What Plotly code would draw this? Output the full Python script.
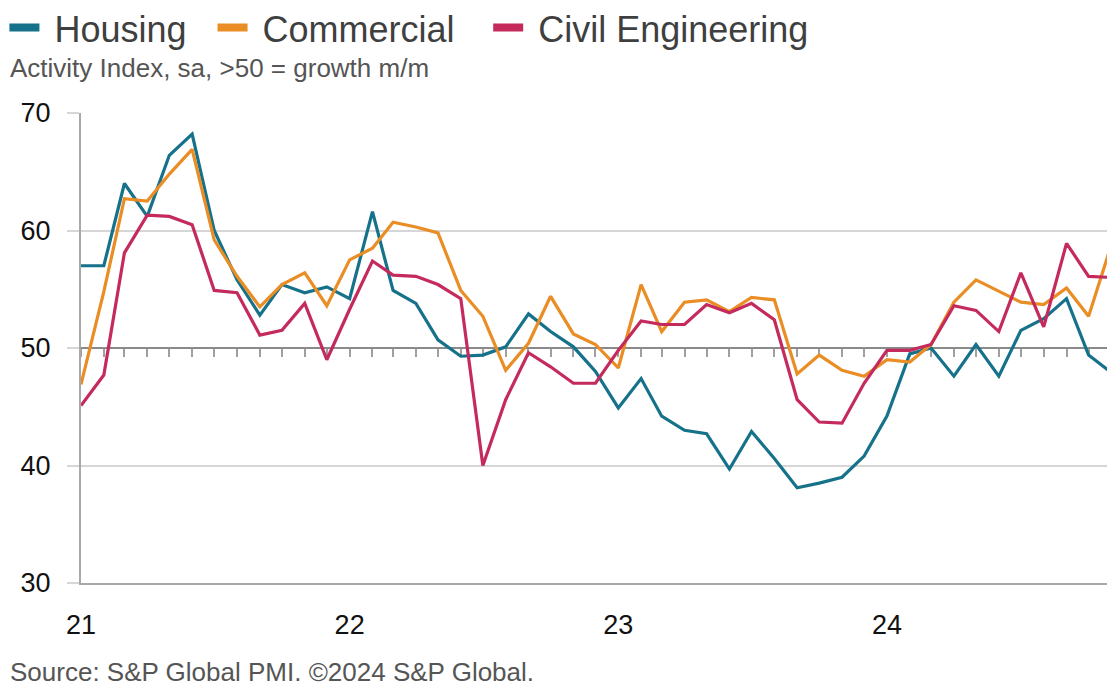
import pandas as pd
import plotly.graph_objects as go

months = pd.date_range("2021-01-01", "2024-11-01", freq="MS")

housing = [57.0, 57.0, 64.0, 61.2, 66.4, 68.2, 60.0, 55.8, 52.8, 55.4, 54.7, 55.2,
           54.2, 61.6, 54.9, 53.8, 50.7, 49.3, 49.4, 50.1, 52.9, 51.4, 50.1, 48.0,
           44.9, 47.4, 44.2, 43.0, 42.7, 39.7, 42.9, 40.6, 38.1, 38.5, 39.0, 40.8,
           44.2, 49.5, 50.0, 47.6, 50.3, 47.6, 51.5, 52.5, 54.2, 49.4, 47.9]
commercial = [46.9, 54.8, 62.7, 62.5, 64.8, 66.9, 59.2, 56.1, 53.5, 55.4, 56.4, 53.6,
              57.5, 58.5, 60.7, 60.3, 59.8, 54.9, 52.7, 48.1, 50.4, 54.4, 51.2, 50.3,
              48.3, 55.4, 51.4, 53.9, 54.1, 53.1, 54.3, 54.1, 47.8, 49.4, 48.1, 47.6,
              49.0, 48.8, 50.3, 53.9, 55.8, 54.8, 53.9, 53.7, 55.1, 52.7, 58.8]
civil = [45.1, 47.7, 58.1, 61.3, 61.2, 60.5, 54.9, 54.7, 51.1, 51.5, 53.8, 49.0,
         53.3, 57.4, 56.2, 56.1, 55.4, 54.2, 40.0, 45.6, 49.6, 48.4, 47.0, 47.0,
         49.8, 52.3, 52.0, 52.0, 53.7, 53.0, 53.8, 52.4, 45.6, 43.7, 43.6, 47.0,
         49.8, 49.8, 50.3, 53.6, 53.2, 51.4, 56.4, 51.8, 58.9, 56.1, 56.0]

series_names = ["Housing", "Commercial", "Civil Engineering"]
series_values = [housing, commercial, civil]
colors = ["#16718a", "#e98d24", "#c52a5c"]

year_ticks = ["2021-01-01", "2022-01-01", "2023-01-01", "2024-01-01"]
year_labels = ["21", "22", "23", "24"]

FONT = "Liberation Sans, Arial, sans-serif"

fig = go.Figure()
for name, vals, col in zip(series_names, series_values, colors):
    fig.add_trace(go.Scatter(x=months, y=vals, mode="lines", name=name,
                             line=dict(color=col, width=3.2), showlegend=False,
                             hoverinfo="x+y+name"))

legend_ids = ["legend", "legend2", "legend3"]
for name, col, lid in zip(series_names, colors, legend_ids):
    fig.add_trace(go.Scatter(x=[None], y=[None], mode="lines", name="\u00a0" + name,
                             line=dict(color=col, width=8), legend=lid,
                             showlegend=True))

# dummy trace to activate the 50-line axis
fig.add_trace(go.Scatter(x=months, y=[None] * len(months), xaxis="x2",
                         showlegend=False, hoverinfo="skip"))

legend_x = [0.004, 0.192, 0.441]
leg_common = dict(orientation="h", xref="container", yref="container",
                  yanchor="middle", y=0.96, bgcolor="rgba(0,0,0,0)",
                  font=dict(family=FONT, size=36, color="#3f3f3f"))
fig.update_layout(
    legend=dict(x=legend_x[0], **leg_common),
    legend2=dict(x=legend_x[1], **leg_common),
    legend3=dict(x=legend_x[2], **leg_common),
)

xr = ["2021-01-01", "2024-10-26"]
fig.update_layout(
    width=1107, height=689,
    margin=dict(l=81, r=0, t=113, b=106),
    plot_bgcolor="white", paper_bgcolor="white",
    font=dict(family=FONT, color="#111111"),
    xaxis=dict(range=xr, type="date", showgrid=False, zeroline=False,
               showline=True, linecolor="#a8a8a8", linewidth=2,
               ticks="", tickvals=year_ticks, ticktext=year_labels,
               tickfont=dict(size=27, color="#111111"),
               ticklabelstandoff=17),
    xaxis2=dict(range=xr, type="date", overlaying="x", anchor="free",
                position=0.5, side="bottom", showgrid=False, zeroline=False,
                showline=True, linecolor="#8a8a8a", linewidth=2,
                ticks="outside", ticklen=8, tickwidth=2, tickcolor="#a0a0a0",
                tick0="2021-01-01", dtick="M1", showticklabels=False,
                layer="below traces"),
    yaxis=dict(range=[30, 70], dtick=10, showgrid=True, gridcolor="#d6d6d6",
               gridwidth=2, zeroline=False, showline=True, linecolor="#a8a8a8",
               linewidth=2, ticks="outside", ticklen=12, tickwidth=2,
               tickcolor="#d6d6d6", tickfont=dict(size=27, color="#111111"),
               ticklabelstandoff=11),
)

fig.add_annotation(text="Activity Index, sa, >50 = growth m/m", xref="paper", yref="paper",
                   x=-0.071, y=1.0957, xanchor="left", yanchor="middle", showarrow=False,
                   font=dict(family=FONT, size=26, color="#555555"))
fig.add_annotation(text="Source: S&P Global PMI. ©2024 S&P Global.", xref="paper", yref="paper",
                   x=-0.071, y=-0.19, xanchor="left", yanchor="middle", showarrow=False,
                   font=dict(family=FONT, size=26, color="#555555"))

fig.write_html("out.html")
